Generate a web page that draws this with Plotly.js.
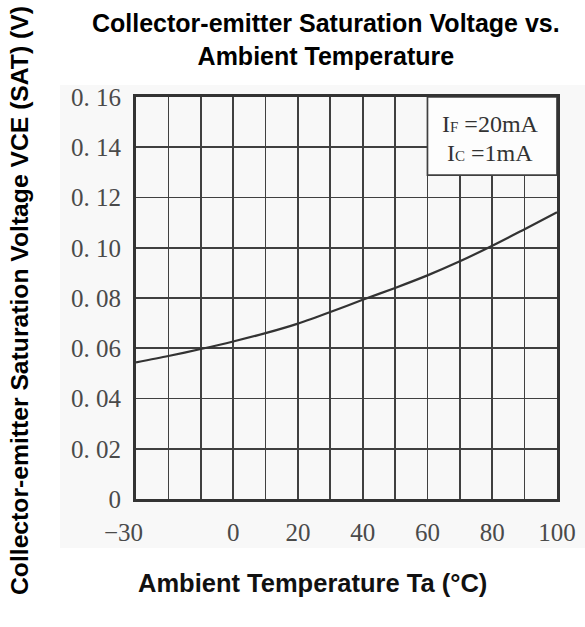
<!DOCTYPE html>
<html>
<head>
<meta charset="utf-8">
<script src="https://cdn.plot.ly/plotly-3.0.1.min.js"></script>
<style>html,body{margin:0;padding:0;background:#fff;}#chart{width:585px;height:627px;}</style>
</head>
<body>
<div id="chart"></div>
<script>
// Data
var temperature = [-30, -20, -10, 0, 10, 20, 30, 40, 50, 60, 70, 80, 90, 100];
var vceSat = [0.0544, 0.0569, 0.0597, 0.0627, 0.0660, 0.0698, 0.0744, 0.0793, 0.0840, 0.0890, 0.0946, 0.1008, 0.1074, 0.1141];

var xTickVals = [-30, -20, -10, 0, 10, 20, 30, 40, 50, 60, 70, 80, 90, 100];
var xTickText = ["\u221230\u00a0\u00a0\u00a0\u00a0", "", "", "0", "", "20", "", "40", "", "60", "", "80", "", "100"];
var yTickVals = [0, 0.02, 0.04, 0.06, 0.08, 0.10, 0.12, 0.14, 0.16];
var yTickText = ["0", "0. 02", "0. 04", "0. 06", "0. 08", "0. 10", "0. 12", "0. 14", "0. 16"];

var chartTitle = "Collector-emitter Saturation Voltage vs.<br>Ambient Temperature";
var xTitle = "Ambient Temperature Ta (\u00b0C)";
var yTitle = "Collector-emitter Saturation Voltage VCE (SAT) (V)";
var condLines = ["I<span style='font-size:15px'>F</span> =20mA", "I<span style='font-size:15px'>C</span> =1mA"];

var serif = "Liberation Serif, DejaVu Serif, serif";
var sans = "Liberation Sans, Arial, sans-serif";

var trace = {
  x: temperature, y: vceSat, type: "scatter", mode: "lines",
  line: {color: "#333333", width: 2.2, shape: "spline", smoothing: 0.8},
  hoverinfo: "skip", showlegend: false
};

var layout = {
  width: 585, height: 627,
  margin: {l: 136, r: 28, t: 97, b: 128, pad: 0},
  paper_bgcolor: "#ffffff",
  plot_bgcolor: "#fdfdfd",
  showlegend: false,
  xaxis: {
    range: [-30, 100], tickmode: "array", tickvals: xTickVals, ticktext: xTickText,
    showgrid: true, gridcolor: "#404040", gridwidth: 1.7,
    showline: true, linecolor: "#333333", linewidth: 3, mirror: true,
    ticks: "", ticklabelstandoff: 9, zeroline: false,
    tickfont: {family: serif, size: 25, color: "#4a4a4a"}
  },
  yaxis: {
    range: [0, 0.16], tickmode: "array", tickvals: yTickVals, ticktext: yTickText,
    showgrid: true, gridcolor: "#404040", gridwidth: 1.7,
    showline: true, linecolor: "#333333", linewidth: 3, mirror: true,
    ticks: "", ticklabelstandoff: 7, zeroline: false,
    tickfont: {family: serif, size: 25, color: "#4a4a4a"}
  },
  shapes: [
    {type: "rect", xref: "paper", yref: "paper", layer: "below",
     x0: -76/421, x1: 1.07, y0: -49/402, y1: 1.03,
     fillcolor: "#f8f8f8", line: {width: 0}},
    {type: "rect", xref: "x", yref: "y", layer: "above",
     x0: 60, x1: 100, y0: 0.1289, y1: 0.16,
     fillcolor: "#fdfdfd", line: {color: "#404040", width: 1.7}}
  ],
  annotations: [
    {text: chartTitle, xref: "paper", yref: "paper", x: (326-136)/421, y: 1 + (97-40)/402,
     xanchor: "center", yanchor: "middle", showarrow: false,
     font: {family: sans, size: 25, color: "#000"}},
    {text: yTitle, xref: "paper", yref: "paper", x: (19-136)/421, y: (499-301)/402,
     xanchor: "center", yanchor: "middle", textangle: -90, showarrow: false,
     font: {family: sans, size: 24.7, color: "#000"}},
    {text: xTitle, xref: "paper", yref: "paper", x: (312-136)/421, y: -(583-499)/402,
     xanchor: "center", yanchor: "middle", showarrow: false,
     font: {family: sans, size: 25.5, color: "#111"}},
    {text: condLines[0], xref: "paper", yref: "paper", x: (490-136)/421, y: (499-124)/402,
     xanchor: "center", yanchor: "middle", showarrow: false,
     font: {family: serif, size: 24, color: "#333"}},
    {text: condLines[1], xref: "paper", yref: "paper", x: (490-136)/421, y: (499-153)/402,
     xanchor: "center", yanchor: "middle", showarrow: false,
     font: {family: serif, size: 24, color: "#333"}}
  ]
};
// bold titles
layout.annotations[0].text = "<b>" + chartTitle.replace("<br>", "</b><br><b>") + "</b>";
layout.annotations[1].text = "<b>" + yTitle + "</b>";
layout.annotations[2].text = "<b>" + xTitle + "</b>";

Plotly.newPlot("chart", [trace], layout, {displayModeBar: false, staticPlot: true});
</script>
</body>
</html>
